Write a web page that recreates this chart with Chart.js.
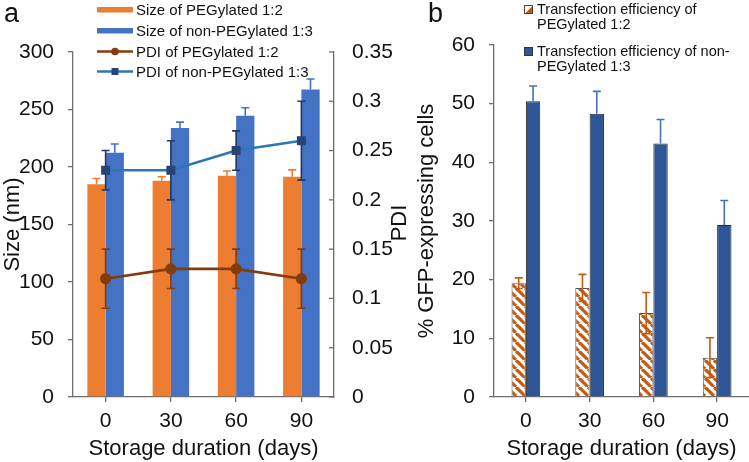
<!DOCTYPE html>
<html>
<head>
<meta charset="utf-8">
<script src="https://cdn.jsdelivr.net/npm/chart.js@4.4.1/dist/chart.umd.min.js"></script>
<style>
    body { margin: 0; background: #fff; font-family: "Liberation Sans", Arial, sans-serif; color: #111; }
    .wrap { position: relative; width: 749px; height: 462px; overflow: hidden; }
    .panel { position: absolute; top: 0; }
    .lg { position: absolute; white-space: nowrap; }
</style>
</head>
<body>
<div class="wrap">
    <div class="panel" style="left: 0;"><canvas id="chartA" width="412" height="462"></canvas></div>
    <div class="panel" style="left: 390px;"><canvas id="chartB" width="359" height="462"></canvas></div>

    <div style="position: absolute; left: 4px; top: -2px; font-size: 27px;">a</div>
    <div style="position: absolute; left: 428px; top: -2px; font-size: 27px;">b</div>

    <!-- legend a -->
    <div class="lg" style="left: 97px; top: 2px; font-size: 15px; line-height: 15px;"><svg width="36" height="15" style="vertical-align: top;"><rect x="0" y="5" width="36" height="5.5" fill="#ED7D31"/></svg><span style="margin-left: 3px;">Size of PEGylated 1:2</span></div>
    <div class="lg" style="left: 97px; top: 22.5px; font-size: 15px; line-height: 15px;"><svg width="36" height="15" style="vertical-align: top;"><rect x="0" y="5" width="36" height="5.5" fill="#4472C4"/></svg><span style="margin-left: 3px;">Size of non-PEGylated 1:3</span></div>
    <div class="lg" style="left: 97px; top: 43.5px; font-size: 15px; line-height: 15px;"><svg width="36" height="15" style="vertical-align: top;"><line x1="0" y1="7.5" x2="36" y2="7.5" stroke="#843C0C" stroke-width="2.5"/><circle cx="18" cy="7.5" r="3.8" fill="#843C0C"/></svg><span style="margin-left: 3px;">PDI of PEGylated 1:2</span></div>
    <div class="lg" style="left: 97px; top: 63.5px; font-size: 15px; line-height: 15px;"><svg width="36" height="15" style="vertical-align: top;"><line x1="0" y1="7.5" x2="36" y2="7.5" stroke="#2E75B6" stroke-width="2.5"/><rect x="14.5" y="4" width="7" height="7" fill="#264478"/></svg><span style="margin-left: 3px;">PDI of non-PEGylated 1:3</span></div>

    <!-- legend b -->
    <div class="lg" style="left: 524px; top: 2px; font-size: 14.5px; line-height: 15px;"><span style="position: absolute; left: 0; top: 3px; width: 7px; height: 7px; border: 1px solid #444; background: linear-gradient(135deg, #fff 55%, #C55A11 55%);"></span><span style="margin-left: 13px; display: inline-block;">Transfection efficiency of<br>PEGylated 1:2</span></div>
    <div class="lg" style="left: 524px; top: 44px; font-size: 14.5px; line-height: 15px;"><span style="position: absolute; left: 0; top: 3px; width: 7px; height: 7px; border: 1px solid #333; background: #2F5597;"></span><span style="margin-left: 13px; display: inline-block;">Transfection efficiency of non-<br>PEGylated 1:3</span></div>
</div>

<script>
// --- data ---
const days = ['0', '30', '60', '90'];

// panel a: size (nm) and PDI
const sizePeg = [185, 188, 192.5, 191.5];
const sizePegErr = [5, 3.5, 4, 6];
const sizeNonPeg = [212.5, 234, 244.5, 267.5];
const sizeNonPegErr = [7.5, 5, 7, 9];
const pdiPeg = [0.12, 0.13, 0.13, 0.12];
const pdiPegErr = [0.03, 0.02, 0.02, 0.03];
const pdiNonPeg = [0.23, 0.23, 0.25, 0.26];
const pdiNonPegErr = [0.02, 0.03, 0.02, 0.04];
const sizeMax = 300, sizeStep = 50;
const pdiMax = 0.35, pdiStep = 0.05;

// panel b: transfection efficiency (%)
const tfPeg = [19.4, 18.6, 14.3, 6.7];
const tfPegErr = [0.9, 2.3, 3.5, 3.4];
const tfNonPeg = [50.4, 48.3, 43.2, 29.3];
const tfNonPegErr = [2.6, 3.8, 4.1, 4.2];
const tfMax = 60, tfStep = 10;

const FONT = '"Liberation Sans", Arial, sans-serif';
const AXIS = '#6e6e6e';
const TXT = '#111';

// error bars, drawn through the dataset's own scale
function drawErr(chart, i) {
    const ds = chart.data.datasets[i];
    if (!ds.errors) return;
    const meta = chart.getDatasetMeta(i);
    const scale = chart.scales[meta.yAxisID];
    const ctx = chart.ctx;
    ctx.save();
    ctx.strokeStyle = ds.errColor;
    ctx.lineWidth = 1.6;
    meta.data.forEach((el, j) => {
        const v = ds.data[j], e = ds.errors[j];
        const x = el.x;
        const yTop = scale.getPixelForValue(v + e);
        const yBot = ds.errBoth ? scale.getPixelForValue(v - e) : el.y;
        ctx.beginPath();
        ctx.moveTo(x, yTop); ctx.lineTo(x, yBot);
        ctx.moveTo(x - 4, yTop); ctx.lineTo(x + 4, yTop);
        if (ds.errBoth) { ctx.moveTo(x - 4, yBot); ctx.lineTo(x + 4, yBot); }
        ctx.stroke();
    });
    ctx.restore();
}

const errorBars = {
    id: 'errorBars',
    beforeDatasetDraw(chart, args) { if (args.meta.type === 'line') drawErr(chart, args.index); },
    afterDatasetDraw(chart, args) { if (args.meta.type === 'bar') drawErr(chart, args.index); }
};

// secondary axis: inward tick marks and a bottom-to-top title
const pdiAxis = {
    id: 'pdiAxis',
    afterDraw(chart) {
        const ctx = chart.ctx;
        const s = chart.scales.y1;
        ctx.save();
        ctx.strokeStyle = AXIS;
        ctx.lineWidth = 1.3;
        s.ticks.forEach(t => {
            const y = s.getPixelForValue(t.value);
            ctx.beginPath(); ctx.moveTo(s.left - 5, y); ctx.lineTo(s.left, y); ctx.stroke();
        });
        ctx.translate(400, 223);
        ctx.rotate(-Math.PI / 2);
        ctx.font = '22px ' + FONT;
        ctx.fillStyle = TXT;
        ctx.textAlign = 'center';
        ctx.textBaseline = 'middle';
        ctx.fillText('PDI', 0, 0);
        ctx.restore();
    }
};

function xAxis() {
    return {
        afterFit: s => { s.height = 65; },
        grid: { drawOnChartArea: false, offset: false, tickLength: 5, color: AXIS, lineWidth: 1.3 },
        border: { color: AXIS, width: 1.3 },
        ticks: { font: { size: 21, family: FONT }, color: TXT, padding: 7 },
        title: { display: true, text: 'Storage duration (days)', font: { size: 22, family: FONT }, color: TXT, padding: { top: 0, bottom: 0 } }
    };
}

Chart.defaults.animation = false;

new Chart(document.getElementById('chartA'), {
    type: 'bar',
    data: {
        labels: days,
        datasets: [
            { type: 'line', label: 'PDI of PEGylated 1:2', data: pdiPeg, yAxisID: 'y1', order: 0,
              borderColor: '#843C0C', backgroundColor: '#843C0C', borderWidth: 2.6, pointRadius: 4.3, pointStyle: 'circle',
              errors: pdiPegErr, errBoth: true, errColor: '#843C0C' },
            { type: 'line', label: 'PDI of non-PEGylated 1:3', data: pdiNonPeg, yAxisID: 'y1', order: 0,
              borderColor: '#2E75B6', backgroundColor: '#264478', pointBorderColor: '#264478', borderWidth: 2.6, pointRadius: 4.5, pointStyle: 'rect',
              errors: pdiNonPegErr, errBoth: true, errColor: '#203864' },
            { label: 'Size of PEGylated 1:2', data: sizePeg, yAxisID: 'y', order: 1,
              backgroundColor: '#ED7D31', errors: sizePegErr, errColor: '#ED7D31',
              categoryPercentage: 0.56, barPercentage: 1 },
            { label: 'Size of non-PEGylated 1:3', data: sizeNonPeg, yAxisID: 'y', order: 1,
              backgroundColor: '#4472C4', errors: sizeNonPegErr, errColor: '#4472C4',
              categoryPercentage: 0.56, barPercentage: 1 }
        ]
    },
    options: {
        responsive: false,
        layout: { padding: { top: 52, left: 0, right: 0, bottom: 0 } },
        plugins: { legend: { display: false }, tooltip: { enabled: false } },
        scales: {
            x: xAxis(),
            y: {
                position: 'left', min: 0, max: sizeMax,
                afterFit: s => { s.width = 73; },
                grid: { drawOnChartArea: false, tickLength: 5, color: AXIS, lineWidth: 1.3 },
                border: { color: AXIS, width: 1.3 },
                ticks: { stepSize: sizeStep, font: { size: 21, family: FONT }, color: TXT, padding: 14 },
                title: { display: true, text: 'Size (nm)', font: { size: 22, family: FONT }, color: TXT, padding: { top: 0, bottom: 0 } }
            },
            y1: {
                position: 'right', min: 0, max: pdiMax,
                afterFit: s => { s.width = 78; },
                grid: { drawOnChartArea: false, drawTicks: false },
                border: { color: AXIS, width: 1.3 },
                ticks: { stepSize: pdiStep, font: { size: 21, family: FONT }, color: TXT, padding: 18,
                         callback: v => +v.toFixed(2) }
            }
        }
    },
    plugins: [errorBars, pdiAxis]
});

// hatch pattern for the PEGylated bars
function hatch() {
    const s = 9;
    const c = document.createElement('canvas');
    c.width = s; c.height = s;
    const g = c.getContext('2d');
    g.fillStyle = '#fff';
    g.fillRect(0, 0, s, s);
    g.strokeStyle = '#C55A11';
    g.lineWidth = 3.2;
    [-s, 0, s].forEach(o => { g.beginPath(); g.moveTo(o, 0); g.lineTo(o + s, s); g.stroke(); });
    return g.createPattern(c, 'repeat');
}

new Chart(document.getElementById('chartB'), {
    type: 'bar',
    data: {
        labels: days,
        datasets: [
            { label: 'Transfection efficiency of PEGylated 1:2', data: tfPeg,
              backgroundColor: hatch(), borderColor: '#555', borderWidth: 1,
              errors: tfPegErr, errBoth: true, errColor: '#C55A11',
              categoryPercentage: 0.45, barPercentage: 1 },
            { label: 'Transfection efficiency of non-PEGylated 1:3', data: tfNonPeg,
              backgroundColor: '#2F5597', borderColor: '#2b2b2b', borderWidth: 1,
              errors: tfNonPegErr, errColor: '#4472C4',
              categoryPercentage: 0.45, barPercentage: 1 }
        ]
    },
    options: {
        responsive: false,
        layout: { padding: { top: 45, left: 0, right: 0, bottom: 0 } },
        plugins: { legend: { display: false }, tooltip: { enabled: false } },
        scales: {
            x: xAxis(),
            y: {
                min: 0, max: tfMax,
                afterFit: s => { s.width = 104; },
                grid: { drawOnChartArea: false, tickLength: 5, color: AXIS, lineWidth: 1.3 },
                border: { color: AXIS, width: 1.3 },
                ticks: { stepSize: tfStep, font: { size: 21, family: FONT }, color: TXT, padding: 14 },
                title: { display: true, text: '% GFP-expressing cells', font: { size: 22, family: FONT }, color: TXT, padding: { top: 24, bottom: 0 } }
            }
        }
    },
    plugins: [errorBars]
});
</script>
</body>
</html>
